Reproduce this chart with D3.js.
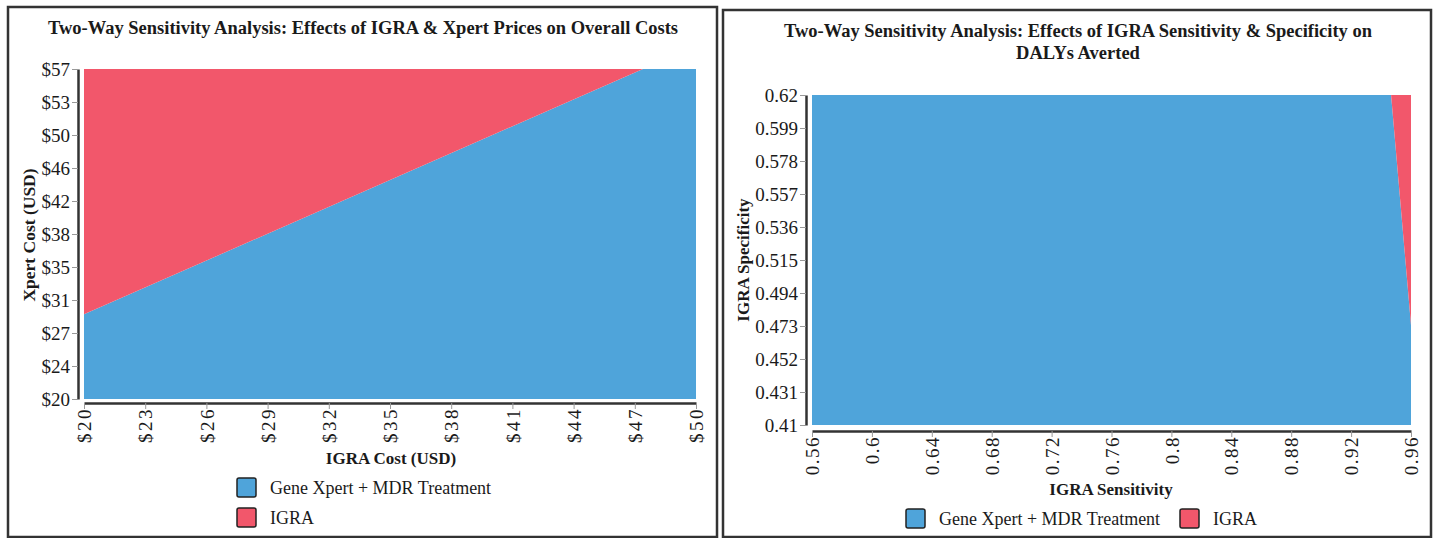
<!DOCTYPE html>
<html>
<head>
<meta charset="utf-8">
<script src="https://cdn.jsdelivr.net/npm/d3@7/dist/d3.min.js"></script>
<style>
  html, body { margin: 0; padding: 0; background: #fff; }
  svg { display: block; }
  text { font-family: "Liberation Serif", "Times New Roman", serif; fill: #1a1a1a; }
  .axis path.domain { stroke: #333; stroke-width: 2.5; }
  .axis line { stroke: #999; stroke-width: 1; }
  .axis text { font-family: "Liberation Serif", "Times New Roman", serif; font-size: 19px; fill: #1a1a1a; }
</style>
</head>
<body>
<svg id="chart" width="1433" height="538"></svg>
<script>
// ---- Left panel: prices (USD) ----
const igraCostTicks = [20, 23, 26, 29, 32, 35, 38, 41, 44, 47, 50];
const igraCostTickLabels = ["$20", "$23", "$26", "$29", "$32", "$35", "$38", "$41", "$44", "$47", "$50"];
const xpertCostTicks = [20, 23.7, 27.4, 31.1, 34.8, 38.5, 42.2, 45.9, 49.6, 53.3, 57];
const xpertCostTickLabels = ["$20", "$24", "$27", "$31", "$35", "$38", "$42", "$46", "$50", "$53", "$57"];
// Indifference line between strategies: IGRA price vs. threshold Xpert price
const costBoundaryIgra = [20, 47.4];
const costBoundaryXpert = [29.5, 57];

// ---- Right panel: IGRA accuracy ----
const sensitivityTicks = [0.56, 0.6, 0.64, 0.68, 0.72, 0.76, 0.8, 0.84, 0.88, 0.92, 0.96];
const sensitivityTickLabels = ["0.56", "0.6", "0.64", "0.68", "0.72", "0.76", "0.8", "0.84", "0.88", "0.92", "0.96"];
const specificityTicks = [0.41, 0.431, 0.452, 0.473, 0.494, 0.515, 0.536, 0.557, 0.578, 0.599, 0.62];
const specificityTickLabels = ["0.41", "0.431", "0.452", "0.473", "0.494", "0.515", "0.536", "0.557", "0.578", "0.599", "0.62"];
// Indifference line: sensitivity vs. specificity
const accBoundarySens = [0.9467, 0.96];
const accBoundarySpec = [0.62, 0.4736];

const strategies = ["Gene Xpert + MDR Treatment", "IGRA"];
const strategyColors = ["#4FA4DA", "#F2576B"];

const FONT = "'Liberation Serif', 'Times New Roman', serif";
const svg = d3.select("#chart");

function panelFrame(x, y, w, h) {
  svg.append("rect").attr("x", x).attr("y", y).attr("width", w).attr("height", h)
    .attr("fill", "none").attr("stroke", "#333").attr("stroke-width", 2.5);
}

function drawAxes(g, xs, ys, xTicks, xLabels, yTicks, yLabels, xAxisY, yAxisX, spacing, offset) {
  const xAxis = d3.axisBottom(xs).tickValues(xTicks)
    .tickFormat((d, i) => xLabels[i]).tickSize(6).tickSizeOuter(0);
  const gx = g.append("g").attr("class", "axis")
    .attr("transform", `translate(0,${xAxisY})`).call(xAxis)
    .attr("font-family", FONT).attr("font-size", 19);
  gx.selectAll(".tick text")
    .attr("transform", "rotate(-90)")
    .attr("text-anchor", "end")
    .attr("x", -offset).attr("y", 0).attr("dy", "0.35em")
    .style("letter-spacing", spacing + "px");

  const yAxis = d3.axisLeft(ys).tickValues(yTicks)
    .tickFormat((d, i) => yLabels[i]).tickSize(6).tickSizeOuter(0);
  g.append("g").attr("class", "axis")
    .attr("transform", `translate(${yAxisX},0)`).call(yAxis)
    .attr("font-family", FONT).attr("font-size", 19)
    .selectAll(".tick text").attr("x", -8);
}

function legendItem(g, x, y, color, label) {
  g.append("rect").attr("x", x).attr("y", y - 10).attr("width", 19).attr("height", 19)
    .attr("rx", 2).attr("fill", color).attr("stroke", "#222").attr("stroke-width", 1.5);
  g.append("text").attr("x", x + 33).attr("y", y).attr("dy", "0.35em")
    .style("font-family", FONT).style("font-size", "18px").text(label);
}

const line = d3.line();

// ================= Left chart =================
{
  panelFrame(8, 7, 709, 530);
  const g = svg.append("g");
  const xs = d3.scaleLinear().domain([igraCostTicks[0], igraCostTicks[igraCostTicks.length - 1]]).range([84, 696]);
  const ys = d3.scaleLinear().domain([xpertCostTicks[0], xpertCostTicks[xpertCostTicks.length - 1]]).range([399, 69]);
  const [xMin, xMax] = xs.domain(), [yMin, yMax] = ys.domain();
  const b = costBoundaryIgra.map((v, i) => [v, costBoundaryXpert[i]]);

  // Region where Gene Xpert + MDR treatment is preferred (below the line)
  const bluePoly = [[xMin, yMin], ...b, [xMax, yMax], [xMax, yMin]];
  // Region where IGRA is preferred (above the line)
  const redPoly = [[xMin, yMax], ...b];

  g.append("path").attr("d", line(bluePoly.map(p => [xs(p[0]), ys(p[1])])) + "Z")
    .attr("fill", strategyColors[0]);
  g.append("path").attr("d", line(redPoly.map(p => [xs(p[0]), ys(p[1])])) + "Z")
    .attr("fill", strategyColors[1]);

  drawAxes(g, xs, ys, igraCostTicks, igraCostTickLabels, xpertCostTicks, xpertCostTickLabels, 403, 78, 2.5, 4);

  g.append("text").attr("x", 363).attr("y", 28).attr("dy", "0.35em").attr("text-anchor", "middle")
    .style("font-size", "18.5px").style("font-weight", "bold")
    .text("Two-Way Sensitivity Analysis: Effects of IGRA & Xpert Prices on Overall Costs");
  g.append("text").attr("x", 391).attr("y", 458).attr("dy", "0.35em").attr("text-anchor", "middle")
    .style("font-size", "17px").style("font-weight", "bold").text("IGRA Cost (USD)");
  g.append("text").attr("transform", "translate(29,235) rotate(-90)").attr("dy", "0.35em")
    .attr("text-anchor", "middle").style("font-size", "17.5px").style("font-weight", "bold")
    .text("Xpert Cost (USD)");

  legendItem(g, 237, 488, strategyColors[0], strategies[0]);
  legendItem(g, 237, 518, strategyColors[1], strategies[1]);
}

// ================= Right chart =================
{
  panelFrame(723, 10, 708, 527);
  const g = svg.append("g");
  const xs = d3.scaleLinear().domain([sensitivityTicks[0], sensitivityTicks[sensitivityTicks.length - 1]]).range([812, 1411]);
  const ys = d3.scaleLinear().domain([specificityTicks[0], specificityTicks[specificityTicks.length - 1]]).range([425, 95]);
  const [xMin, xMax] = xs.domain(), [yMin, yMax] = ys.domain();
  const b = accBoundarySens.map((v, i) => [v, accBoundarySpec[i]]);

  const bluePoly = [[xMin, yMin], [xMin, yMax], ...b, [xMax, yMin]];
  const redPoly = [...b, [xMax, yMax]];

  g.append("path").attr("d", line(bluePoly.map(p => [xs(p[0]), ys(p[1])])) + "Z")
    .attr("fill", strategyColors[0]);
  g.append("path").attr("d", line(redPoly.map(p => [xs(p[0]), ys(p[1])])) + "Z")
    .attr("fill", strategyColors[1]);

  drawAxes(g, xs, ys, sensitivityTicks, sensitivityTickLabels, specificityTicks, specificityTickLabels, 431, 806, 1.5, 5);

  const title = g.append("text").attr("text-anchor", "middle")
    .style("font-size", "18.5px").style("font-weight", "bold");
  title.append("tspan").attr("x", 1078).attr("y", 31).attr("dy", "0.35em")
    .text("Two-Way Sensitivity Analysis: Effects of IGRA Sensitivity & Specificity on");
  title.append("tspan").attr("x", 1078).attr("y", 53).attr("dy", "0.35em").text("DALYs Averted");

  g.append("text").attr("x", 1111).attr("y", 489).attr("dy", "0.35em").attr("text-anchor", "middle")
    .style("font-size", "17px").style("font-weight", "bold").text("IGRA Sensitivity");
  g.append("text").attr("transform", "translate(743,260) rotate(-90)").attr("dy", "0.35em")
    .attr("text-anchor", "middle").style("font-size", "17px").style("font-weight", "bold")
    .text("IGRA Specificity");

  legendItem(g, 906, 519, strategyColors[0], strategies[0]);
  legendItem(g, 1180, 519, strategyColors[1], strategies[1]);
}
</script>
</body>
</html>
